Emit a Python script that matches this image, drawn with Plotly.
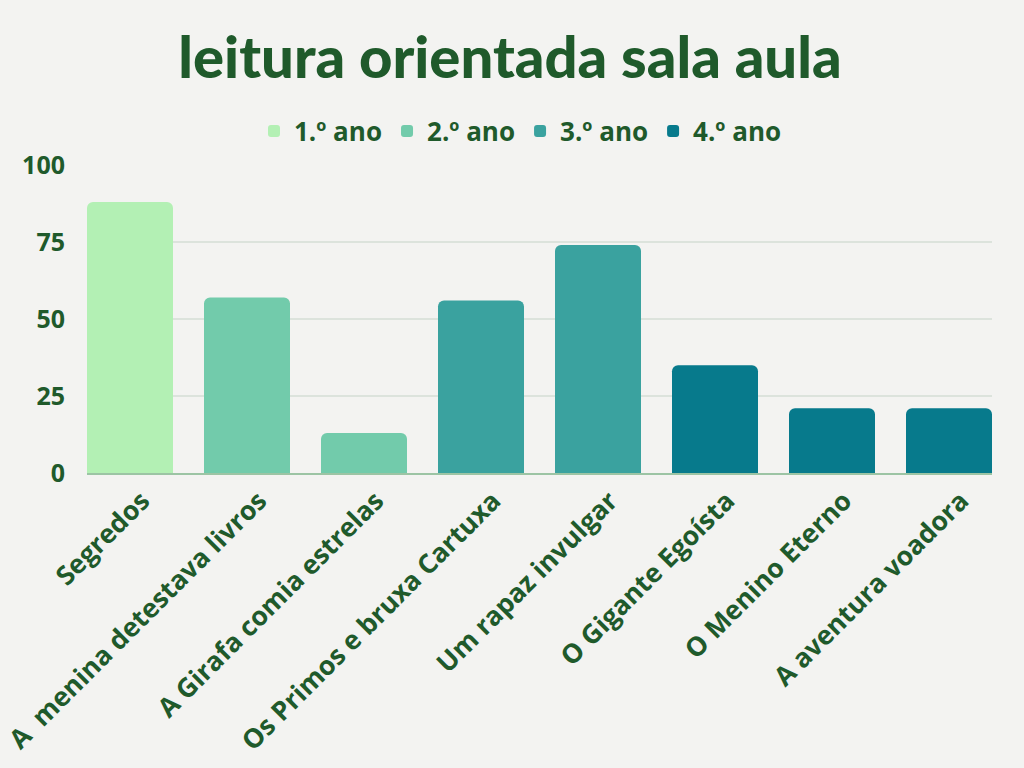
import plotly.graph_objects as go

# Livros lidos por ano (percentagem)
livros = [
    "Segredos",
    "A  menina detestava livros",
    "A Girafa comia estrelas",
    "Os Primos e bruxa Cartuxa",
    "Um rapaz invulgar",
    "O Gigante Egoísta",
    "O Menino Eterno",
    "A aventura voadora",
]
anos = ["1.º ano", "2.º ano", "3.º ano", "4.º ano"]
ano_do_livro = ["1.º ano", "2.º ano", "2.º ano", "3.º ano", "3.º ano", "4.º ano", "4.º ano", "4.º ano"]
valores = [88, 57, 13, 56, 74, 35, 21, 21]
cores = ["#b3f0b4", "#72cbab", "#3aa29f", "#077a8c"]

verde_escuro = "#1f5a2b"
fundo = "#f3f3f1"

fig = go.Figure()

for ano, cor in zip(anos, cores):
    xs = [l for l, a in zip(livros, ano_do_livro) if a == ano]
    ys = [v for v, a in zip(valores, ano_do_livro) if a == ano]
    fig.add_trace(go.Bar(
        x=xs,
        y=ys,
        name=ano,
        marker=dict(color=cor, line=dict(width=0)),
        width=0.735,
    ))

fig.update_layout(
    width=1024,
    height=768,
    barmode="overlay",
    barcornerradius=6,
    paper_bgcolor=fundo,
    plot_bgcolor=fundo,
    margin=dict(l=87, r=32, t=165, b=295, autoexpand=False),
    title=dict(
        text="leitura orientada sala aula",
        x=0.498,
        xanchor="center",
        y=0.925,
        yanchor="middle",
        font=dict(family="Lato", size=58, color=verde_escuro, weight=900),
    ),
    legend=dict(
        orientation="h",
        x=0.479,
        xanchor="center",
        y=1.11,
        yanchor="middle",
        font=dict(family="Open Sans", size=26, color=verde_escuro, weight="bold"),
        itemwidth=30,
        bgcolor="rgba(0,0,0,0)",
    ),
    xaxis=dict(
        categoryorder="array",
        categoryarray=livros,
        range=[-0.3675, 7.3675],
        tickangle=-45,
        tickfont=dict(family="Open Sans", size=26.5, color=verde_escuro, weight="bold"),
        ticklabelshift=12,
        showline=True,
        linecolor="#9cc4a4",
        linewidth=1.5,
        ticks="",
        showgrid=False,
        automargin=False,
        fixedrange=True,
    ),
    yaxis=dict(
        range=[0, 100],
        tickvals=[0, 25, 50, 75, 100],
        tickfont=dict(family="Open Sans", size=25, color=verde_escuro, weight="bold"),
        gridcolor="#dce3dc",
        gridwidth=1.5,
        zeroline=False,
        ticks="outside",
        ticklen=16,
        tickcolor="rgba(0,0,0,0)",
        automargin=False,
        fixedrange=True,
    ),
    showlegend=True,
)

fig.write_html(
    "out.html",
    config={"displayModeBar": False},
    post_script="document.body.style.margin='0';document.body.style.background='#f3f3f1';",
)
